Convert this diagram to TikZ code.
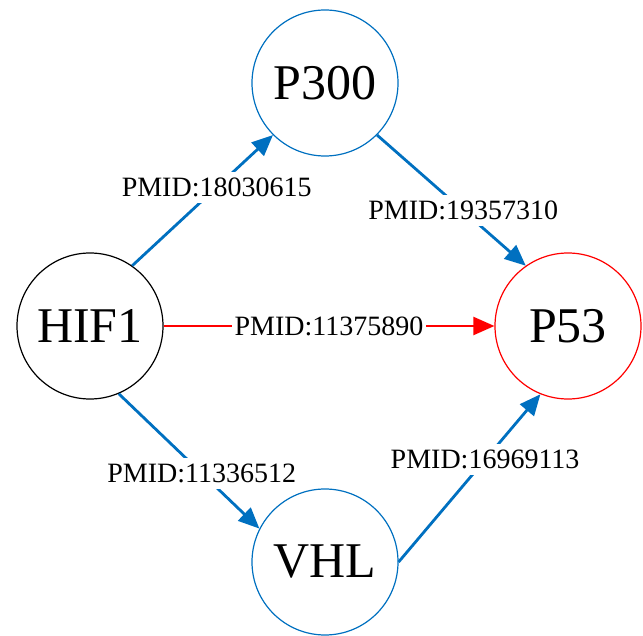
\documentclass[tikz,border=0pt]{standalone}
\usepackage{fontspec}
\setmainfont{Liberation Serif}
\usetikzlibrary{arrows.meta}
\definecolor{eblue}{RGB}{0,112,192}
\definecolor{ered}{RGB}{255,0,0}
\tikzset{
  gene/.style={circle, draw, line width=1.2pt, minimum size=146pt, inner sep=0pt, font=\fontsize{50}{50}\selectfont},
  blueedge/.style={draw=eblue, line width=2.8pt, -{Triangle[length=21pt,width=18pt]}},
  rededge/.style={draw=ered, line width=2.2pt, -{Triangle[length=21pt,width=18pt]}},
  pmid/.style={fill=white, inner xsep=3pt, inner ysep=6pt, font=\fontsize{28}{28}\selectfont, text=black}
}
\begin{document}
\begin{tikzpicture}[x=1pt,y=-1pt]
\useasboundingbox (0,0) rectangle (643,636);
\node[gene, draw=black] (HIF1) at (90,326) {HIF1};
\node[gene, draw=eblue] (P300) at (325,83) {P300};
\node[gene, draw=ered] (P53) at (568,326) {P53};
\node[gene, draw=eblue] (VHL) at (325,562) {VHL};
\draw[blueedge] (HIF1.55) -- node[pmid, pos=0.6] (l1) {PMID:18030615} (P300.225);
\draw[blueedge] (P300.-45) -- node[pmid, pos=0.58] (l2) {PMID:19357310} (P53.125);
\draw[rededge] (HIF1.east) -- node[pmid, pos=0.5] (l3) {PMID:11375890} (P53.west);
\draw[blueedge] (HIF1.-67) -- node[pmid, pos=0.59] (l4) {PMID:11336512} (VHL.153);
\draw[blueedge] (VHL.east) -- node[pmid, pos=0.61] (l5) {PMID:16969113} (P53.248);
\end{tikzpicture}
\end{document}
